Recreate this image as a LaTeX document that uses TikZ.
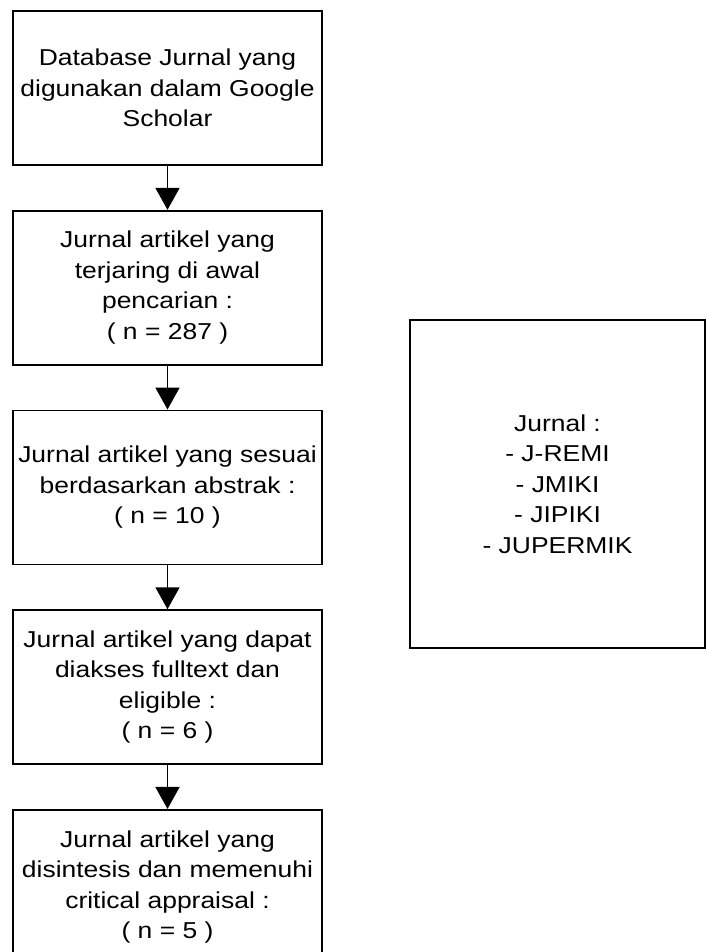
\documentclass[tikz,border=0pt]{standalone}
\usepackage{fontspec}
\setmainfont[FakeStretch=1.15]{Liberation Sans}
\usetikzlibrary{chains, arrows.meta}

\begin{document}
\begin{tikzpicture}[x=1pt, y=1pt]
\tikzset{
  arrow/.style={
    >={Triangle[width=24pt, length=22pt]}
  },
  line/.style={
    draw,
    ->,
    line width=1.7pt,
  },
  box/.style={
    draw,
    line width=1.7pt,
    inner sep=0pt,
    minimum width=309pt,
    minimum height=154pt,
    align=center,
    font=\fontsize{23pt}{30.5pt}\selectfont
  },
  list/.style={
    draw,
    line width=1.7pt,
    inner sep=0pt,
    minimum width=295pt,
    minimum height=328pt,
    align=center,
    font=\fontsize{23pt}{30.5pt}\selectfont
  }
}

\useasboundingbox (0,0) rectangle (706,-952);

% Flow
\begin{scope}[
  shift={(167.5,-88)},
  start chain=flow going below, node distance=44pt
  ]
\node (database) [on chain=flow, box] {Database Jurnal yang\\digunakan dalam Google\\Scholar};
\node (found) [on chain=flow, box] {Jurnal artikel yang\\terjaring di awal\\pencarian :\\( n = 287 )};
\node (abstract) [on chain=flow, box] {Jurnal artikel yang sesuai\\berdasarkan abstrak :\\( n = 10 )};
\node (fulltext) [on chain=flow, box] {Jurnal artikel yang dapat\\diakses fulltext dan\\eligible :\\( n = 6 )};
\node (appraisal) [on chain=flow, box] {Jurnal artikel yang\\disintesis dan memenuhi\\critical appraisal :\\( n = 5 )};
\end{scope}

% Journals
\node (journals) [list] at (557.5,-484) {Jurnal :\\- J-REMI\\- JMIKI\\- JIPIKI\\- JUPERMIK};

\draw[line, arrow] (database) to (found);
\draw[line, arrow] (found) to (abstract);
\draw[line, arrow] (abstract) to (fulltext);
\draw[line, arrow] (fulltext) to (appraisal);

\end{tikzpicture}
\end{document}
